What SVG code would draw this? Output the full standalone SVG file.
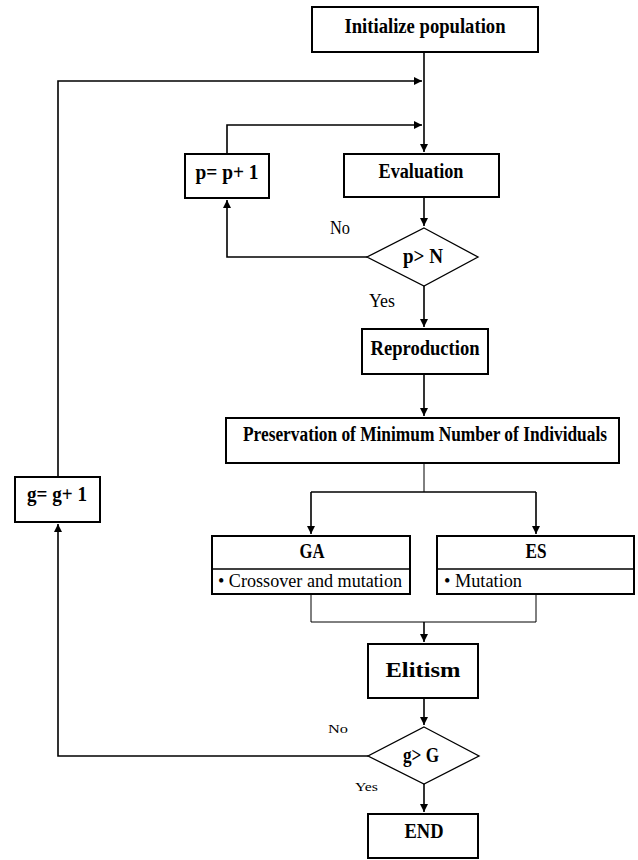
<svg xmlns="http://www.w3.org/2000/svg" width="638" height="860" viewBox="0 0 638 860">
<defs>
<marker id="arr" markerUnits="userSpaceOnUse" markerWidth="10" markerHeight="10" refX="8" refY="4" orient="auto">
<path d="M0,0 L8,4 L0,8 Z" fill="#000"/>
</marker>
<style>
.box{fill:#fff;stroke:#000;stroke-width:2}
.dia{fill:#fff;stroke:#000;stroke-width:1.3}
.c{fill:none;stroke:#000;stroke-width:1.6}
.t{fill:none;stroke:#000;stroke-width:1}
.b{font-family:"Liberation Serif","Times New Roman",serif;font-weight:bold;font-size:20px;fill:#000;text-anchor:middle}
.r{font-family:"Liberation Serif","Times New Roman",serif;font-size:18px;fill:#000}
.s{font-family:"Liberation Serif","Times New Roman",serif;font-size:13px;fill:#000}
</style>
</defs>
<rect width="638" height="860" fill="#fff"/>
<g id="connectors">
<path class="c" d="M424,52 V152" marker-end="url(#arr)"/>
<path class="c" d="M58,477 V81 H422" marker-end="url(#arr)"/>
<path class="c" d="M227,154 V125 H422" marker-end="url(#arr)"/>
<path class="c" d="M424,197 V226" marker-end="url(#arr)"/>
<path class="c" d="M367,257 H227 V200" marker-end="url(#arr)"/>
<path class="c" d="M424,286 V327" marker-end="url(#arr)"/>
<path class="c" d="M424,374 V416" marker-end="url(#arr)"/>
<path class="t" d="M424,463 V492"/>
<path class="c" d="M311,492 H536"/>
<path class="c" d="M311,492 V534" marker-end="url(#arr)"/>
<path class="c" d="M536,492 V534" marker-end="url(#arr)"/>
<path class="t" d="M311,594 V622 H536 V594"/>
<path class="c" d="M424,622 V642" marker-end="url(#arr)"/>
<path class="c" d="M424,698 V725" marker-end="url(#arr)"/>
<path class="c" d="M368,756 H58 V524" marker-end="url(#arr)"/>
<path class="c" d="M424,784 V812" marker-end="url(#arr)"/>
</g>
<g id="init">
<rect class="box" x="312" y="7" width="226" height="45"/>
<text class="b" x="425" y="33" textLength="161" lengthAdjust="spacingAndGlyphs">Initialize population</text>
</g>
<g id="pinc">
<rect class="box" x="185" y="154" width="84" height="44"/>
<text class="b" x="227" y="179" textLength="63" lengthAdjust="spacingAndGlyphs">p= p+ 1</text>
</g>
<g id="eval">
<rect class="box" x="344" y="154" width="155" height="43"/>
<text class="b" x="421" y="178" textLength="85" lengthAdjust="spacingAndGlyphs">Evaluation</text>
</g>
<g id="dec1">
<polygon class="dia" points="424,228 478,257 424,286 367,257"/>
<text class="b" x="423" y="263" font-size="19" textLength="40" lengthAdjust="spacingAndGlyphs">p&gt; N</text>
<text class="r" x="330" y="234" font-size="17" textLength="20" lengthAdjust="spacingAndGlyphs">No</text>
<text class="r" x="369" y="307" font-size="16" textLength="26" lengthAdjust="spacingAndGlyphs">Yes</text>
</g>
<g id="repro">
<rect class="box" x="362" y="329" width="126" height="45"/>
<text class="b" x="425" y="355" textLength="109" lengthAdjust="spacingAndGlyphs">Reproduction</text>
</g>
<g id="pres">
<rect class="box" x="226" y="418" width="393" height="45"/>
<text class="b" x="425" y="441" font-size="16" textLength="364" lengthAdjust="spacingAndGlyphs">Preservation of Minimum Number of Individuals</text>
</g>
<g id="ga">
<rect class="box" x="212" y="536" width="198" height="58"/>
<line x1="212" y1="569" x2="410" y2="569" stroke="#000" stroke-width="1.3"/>
<text class="b" x="312" y="558" font-size="18" textLength="25" lengthAdjust="spacingAndGlyphs">GA</text>
<text class="r" x="218" y="587" textLength="184" lengthAdjust="spacingAndGlyphs">• Crossover and mutation</text>
</g>
<g id="es">
<rect class="box" x="437" y="536" width="197" height="58"/>
<line x1="437" y1="569" x2="634" y2="569" stroke="#000" stroke-width="1.3"/>
<text class="b" x="536" y="558" font-size="18" textLength="21" lengthAdjust="spacingAndGlyphs">ES</text>
<text class="r" x="444" y="587" textLength="78" lengthAdjust="spacingAndGlyphs">• Mutation</text>
</g>
<g id="ginc">
<rect class="box" x="15" y="477" width="85" height="45"/>
<text class="b" x="57" y="501" font-size="18" textLength="60" lengthAdjust="spacingAndGlyphs">g= g+ 1</text>
</g>
<g id="elit">
<rect class="box" x="368" y="644" width="110" height="54"/>
<text class="b" x="423" y="677" textLength="75" lengthAdjust="spacingAndGlyphs">Elitism</text>
</g>
<g id="dec2">
<polygon class="dia" points="424,727 479,756 424,784 368,756"/>
<text class="b" x="421" y="762" font-size="15" textLength="36" lengthAdjust="spacingAndGlyphs">g&gt; G</text>
<text class="s" x="328" y="733" textLength="20" lengthAdjust="spacingAndGlyphs">No</text>
<text class="s" x="355" y="791" textLength="23" lengthAdjust="spacingAndGlyphs">Yes</text>
</g>
<g id="end">
<rect class="box" x="368" y="814" width="110" height="44"/>
<text class="b" x="424" y="838" font-size="19" textLength="39" lengthAdjust="spacingAndGlyphs">END</text>
</g>
</svg>
